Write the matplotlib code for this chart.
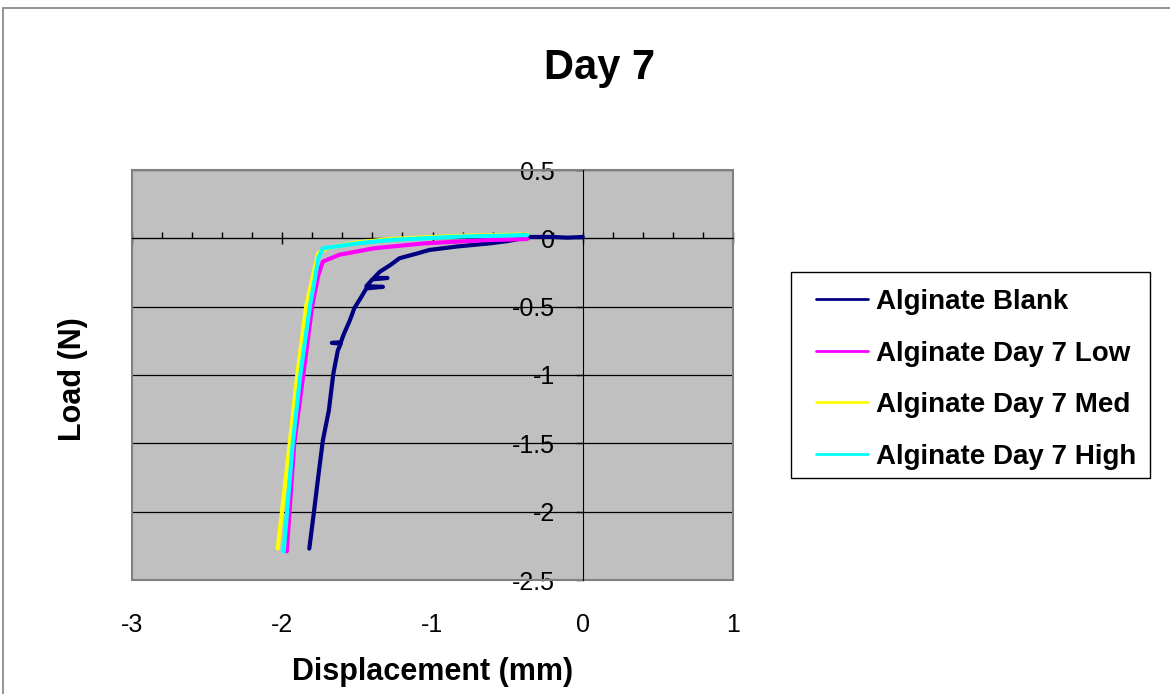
import matplotlib
matplotlib.use('Agg')
import matplotlib.pyplot as plt
from matplotlib.patches import Rectangle
from matplotlib.ticker import FixedLocator, FixedFormatter, MultipleLocator

plt.rcParams['font.family'] = ['Liberation Sans', 'DejaVu Sans']
plt.rcParams['axes.unicode_minus'] = False

title = 'Day 7'
x_label = 'Displacement (mm)'
y_label = 'Load (N)'
series_names = ['Alginate Blank', 'Alginate Day 7 Low', 'Alginate Day 7 Med', 'Alginate Day 7 High']
series_colors = ['#000080', '#FF00FF', '#FFFF00', '#00FFFF']

blank_x = [0.0, -0.1, -0.2, -0.35, -0.5, -0.62, -0.84, -1.02, -1.10, -1.22, -1.28, -1.35,
           -1.39, -1.30, -1.40, -1.44, -1.33, -1.44, -1.48, -1.52, -1.55, -1.59,
           -1.61, -1.67, -1.61, -1.63, -1.66, -1.69, -1.73, -1.76, -1.79, -1.82]
blank_y = [0.01, 0.005, 0.01, 0.01, -0.02, -0.037, -0.06, -0.085, -0.11, -0.146, -0.195, -0.244,
           -0.29, -0.29, -0.30, -0.35, -0.355, -0.366, -0.44, -0.51, -0.60, -0.70,
           -0.76, -0.765, -0.77, -0.82, -0.99, -1.26, -1.48, -1.74, -2.01, -2.27]

low_x = [-0.37, -0.62, -1.06, -1.39, -1.62, -1.73, -1.76, -1.80, -1.86, -1.92, -1.97]
low_y = [-0.005, -0.012, -0.037, -0.073, -0.12, -0.17, -0.27, -0.49, -1.0, -1.5, -2.29]

med_x = [-0.37, -0.84, -1.28, -1.50, -1.70, -1.76, -1.78, -1.84, -1.90, -1.95, -2.03]
med_y = [0.028, 0.018, -0.005, -0.03, -0.07, -0.11, -0.2, -0.49, -1.0, -1.5, -2.27]

high_x = [-0.37, -0.84, -1.28, -1.50, -1.73, -1.76, -1.79, -1.815, -1.88, -1.93, -1.99]
high_y = [0.024, 0.012, -0.012, -0.037, -0.073, -0.146, -0.34, -0.49, -1.0, -1.5, -2.29]

x_ticks = [-3, -2, -1, 0, 1]
x_tick_labels = ['-3', '-2', '-1', '0', '1']
y_ticks = [0.5, 0, -0.5, -1, -1.5, -2, -2.5]
y_tick_labels = ['0.5', '0', '-0.5', '-1', '-1.5', '-2', '-2.5']

W, H = 1170, 694
fig = plt.figure(figsize=(W / 100, H / 100), dpi=100)
fig.patches.append(Rectangle((3 / W, -0.1), 1.2, 1 - 8 / H + 0.1, transform=fig.transFigure,
                             fill=False, edgecolor='#808080', lw=1.2))

ax = fig.add_axes([132 / W, 1 - 580 / H, 601 / W, 410 / H])
ax.set_facecolor('#C0C0C0')
ax.set_xlim(-3, 1)
ax.set_ylim(-2.5, 0.5)

series = [(blank_x, blank_y), (low_x, low_y), (med_x, med_y), (high_x, high_y)]
for (xs, ys), name, col in zip(series, series_names, series_colors):
    ax.plot(xs, ys, color=col, lw=3, label=name, zorder=3,
            solid_joinstyle='round', solid_capstyle='round')

# grid
ax.yaxis.set_major_locator(FixedLocator(y_ticks))
ax.yaxis.set_major_formatter(FixedFormatter(y_tick_labels))
ax.yaxis.grid(True, color='black', lw=0.9)
ax.set_axisbelow(True)

# spines crossing at origin
for s in ['top', 'right']:
    ax.spines[s].set_visible(False)
ax.spines['left'].set_position(('data', 0))
ax.spines['bottom'].set_position(('data', 0))
ax.spines['left'].set_color('black')
ax.spines['bottom'].set_color('black')
ax.add_patch(Rectangle((0, 0), 1, 1, transform=ax.transAxes, fill=False,
                       edgecolor='#808080', lw=1.5, clip_on=False, zorder=1))

ax.xaxis.set_major_locator(FixedLocator(x_ticks))
ax.xaxis.set_minor_locator(MultipleLocator(0.2))
ax.tick_params(axis='x', which='major', direction='inout', length=8, width=1, labelbottom=False)
ax.tick_params(axis='x', which='minor', direction='in', length=4, width=1)
ax.tick_params(axis='y', which='major', direction='out', length=5, width=1, labelsize=18, pad=15)

sec = ax.secondary_xaxis(0.0)
sec.set_xticks(x_ticks)
sec.set_xticklabels(x_tick_labels)
sec.tick_params(length=0, labelsize=18, pad=24)
sec.spines['bottom'].set_visible(False)
sec.set_xlabel(x_label, fontsize=22, fontweight='bold', labelpad=14)

ax.set_ylabel(y_label, fontsize=22, fontweight='bold')
ax.yaxis.set_label_coords(-0.074, 0.49)

fig.text(600 / W, 1 - 68 / H, title, fontsize=30, fontweight='bold', ha='center', va='center')

# legend frame
fig.patches.append(Rectangle((791 / W, 1 - 478 / H), 359 / W, 206 / H, transform=fig.transFigure,
                             fill=False, edgecolor='black', lw=1))
leg = ax.legend(loc='upper left', bbox_to_anchor=(816 / W, 1 - 289 / H), bbox_transform=fig.transFigure,
                borderaxespad=0, borderpad=0, frameon=False, prop={'weight': 'bold', 'size': 20},
                handlelength=1.87, handletextpad=0.3, labelspacing=0.92)
for ln in leg.get_lines():
    ln.set_linewidth(2)

fig.savefig('out.png', dpi=100)
